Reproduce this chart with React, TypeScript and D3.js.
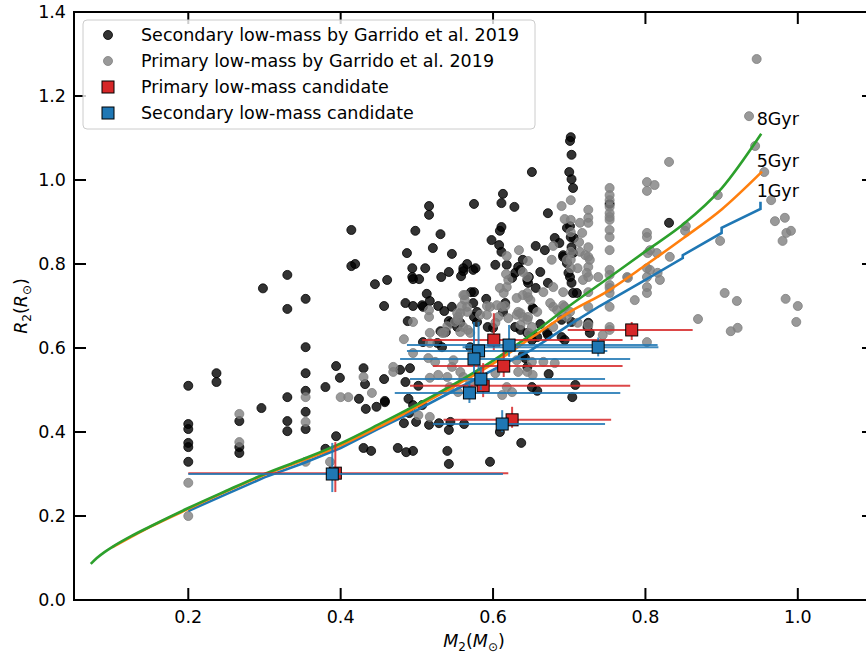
import * as d3 from "d3";

// Garrido et al. 2019 secondaries (M2, R2)
const secondaryGarrido: [number, number][] = [
  [0.2, 0.51], [0.2, 0.419], [0.2, 0.407], [0.2, 0.374], [0.2, 0.364], [0.2, 0.329],
  [0.237, 0.54], [0.237, 0.519], [0.267, 0.426], [0.267, 0.364], [0.267, 0.35],
  [0.296, 0.457], [0.298, 0.742], [0.33, 0.774], [0.33, 0.693], [0.33, 0.483], [0.33, 0.426], [0.33, 0.402],
  [0.354, 0.717], [0.354, 0.602], [0.354, 0.54], [0.354, 0.498], [0.354, 0.448], [0.354, 0.407],
  [0.38, 0.507], [0.38, 0.36], [0.394, 0.557], [0.394, 0.39], [0.399, 0.529],
  [0.414, 0.881], [0.414, 0.795], [0.419, 0.8], [0.424, 0.479], [0.43, 0.552], [0.432, 0.514],
  [0.433, 0.455], [0.43, 0.362], [0.44, 0.355], [0.445, 0.752], [0.447, 0.46], [0.458, 0.471],
  [0.457, 0.526], [0.457, 0.7], [0.461, 0.762], [0.475, 0.362], [0.486, 0.352],
  [0.478, 0.548], [0.491, 0.552], [0.485, 0.519], [0.502, 0.51], [0.458, 0.474], [0.489, 0.479],
  [0.495, 0.464], [0.507, 0.464], [0.49, 0.445], [0.499, 0.424], [0.483, 0.421], [0.516, 0.417], [0.495, 0.355],
  [0.529, 0.421], [0.544, 0.424], [0.562, 0.419], [0.542, 0.405], [0.609, 0.4], [0.637, 0.374],
  [0.542, 0.324], [0.596, 0.329], [0.54, 0.355],
  [0.613, 0.967], [0.575, 0.943], [0.611, 0.945], [0.628, 0.936], [0.516, 0.938], [0.516, 0.917],
  [0.498, 0.879], [0.531, 0.871], [0.611, 0.888], [0.609, 0.879], [0.598, 0.857], [0.521, 0.838],
  [0.487, 0.826], [0.546, 0.824], [0.608, 0.845], [0.611, 0.829], [0.656, 0.843],
  [0.494, 0.79], [0.511, 0.79], [0.566, 0.8], [0.561, 0.79], [0.561, 0.783], [0.577, 0.79], [0.574, 0.786],
  [0.542, 0.781], [0.532, 0.769], [0.558, 0.771], [0.494, 0.769], [0.495, 0.764], [0.503, 0.764],
  [0.603, 0.798], [0.618, 0.798], [0.633, 0.793], [0.639, 0.81], [0.636, 0.786], [0.629, 0.779],
  [0.625, 0.767], [0.645, 0.762], [0.646, 0.755], [0.656, 0.743],
  [0.571, 0.733], [0.575, 0.733], [0.513, 0.729], [0.517, 0.712], [0.485, 0.707], [0.495, 0.7],
  [0.507, 0.702], [0.508, 0.698], [0.528, 0.7], [0.536, 0.688], [0.546, 0.698], [0.574, 0.707],
  [0.579, 0.686], [0.591, 0.717], [0.616, 0.707], [0.613, 0.686], [0.652, 0.695],
  [0.542, 0.664], [0.545, 0.66], [0.575, 0.674], [0.579, 0.662], [0.553, 0.65], [0.593, 0.65],
  [0.6, 0.648], [0.629, 0.65], [0.636, 0.643], [0.527, 0.612], [0.533, 0.602], [0.639, 0.583],
  [0.488, 0.664], [0.557, 0.66], [0.531, 0.64], [0.538, 0.638], [0.508, 0.614], [0.57, 0.602], [0.583, 0.595],
  [0.642, 0.576], [0.645, 0.555], [0.673, 0.538], [0.651, 0.507], [0.658, 0.498], [0.708, 0.512], [0.704, 0.483],
  [0.702, 1.102], [0.701, 1.093], [0.703, 1.06], [0.651, 1.019], [0.7, 1.019], [0.703, 1.002], [0.705, 0.981],
  [0.753, 0.943], [0.672, 0.921], [0.701, 0.89], [0.697, 0.886], [0.702, 0.864], [0.706, 0.862],
  [0.687, 0.85], [0.668, 0.833], [0.692, 0.821], [0.703, 0.84], [0.705, 0.826], [0.681, 0.862],
  [0.662, 0.781], [0.647, 0.769], [0.672, 0.755], [0.701, 0.769], [0.703, 0.755], [0.705, 0.731],
  [0.71, 0.731], [0.653, 0.693], [0.662, 0.657], [0.69, 0.667], [0.703, 0.662], [0.725, 0.66],
  [0.645, 0.636], [0.651, 0.619], [0.671, 0.636], [0.69, 0.626], [0.694, 0.619], [0.727, 0.636],
  [0.692, 0.817], [0.697, 0.802], [0.699, 0.779], [0.649, 0.631], [0.658, 0.626], [0.672, 0.631],
  [0.831, 0.898], [0.724, 0.65],
];

// Garrido et al. 2019 primaries (M, R)
const primaryGarrido: [number, number][] = [
  [0.2, 0.279], [0.2, 0.2], [0.267, 0.443], [0.267, 0.376], [0.354, 0.483], [0.354, 0.424],
  [0.354, 0.329], [0.386, 0.329], [0.4, 0.483], [0.41, 0.483], [0.43, 0.531], [0.441, 0.493],
  [0.634, 0.833], [0.618, 0.819], [0.646, 0.807], [0.617, 0.776], [0.62, 0.762], [0.639, 0.781],
  [0.645, 0.769], [0.609, 0.743], [0.618, 0.745], [0.614, 0.731], [0.631, 0.719], [0.639, 0.726],
  [0.646, 0.721], [0.563, 0.726], [0.605, 0.702], [0.611, 0.698], [0.616, 0.7], [0.592, 0.7],
  [0.592, 0.679], [0.559, 0.7], [0.566, 0.686], [0.516, 0.69], [0.516, 0.674], [0.554, 0.674],
  [0.55, 0.662], [0.633, 0.686], [0.639, 0.674], [0.645, 0.667], [0.636, 0.655], [0.607, 0.674],
  [0.603, 0.66], [0.62, 0.671], [0.495, 0.662], [0.561, 0.65], [0.567, 0.643], [0.536, 0.636],
  [0.517, 0.636], [0.483, 0.621], [0.651, 0.65], [0.647, 0.636],
  [0.533, 0.636], [0.557, 0.638], [0.57, 0.636], [0.495, 0.588], [0.515, 0.576], [0.524, 0.567],
  [0.548, 0.571], [0.546, 0.555], [0.557, 0.543], [0.631, 0.571], [0.651, 0.567], [0.666, 0.567],
  [0.681, 0.564], [0.633, 0.543], [0.645, 0.543], [0.652, 0.536], [0.603, 0.54], [0.469, 0.555],
  [0.469, 0.543], [0.517, 0.529], [0.528, 0.536], [0.54, 0.531], [0.561, 0.531], [0.57, 0.519],
  [0.618, 0.507], [0.625, 0.495], [0.612, 0.488], [0.543, 0.507], [0.554, 0.495], [0.502, 0.44], [0.517, 0.436],
  [0.517, 0.612], [0.54, 0.652], [0.561, 0.726], [0.563, 0.714], [0.566, 0.698], [0.553, 0.683],
  [0.554, 0.667], [0.557, 0.683], [0.583, 0.679], [0.596, 0.698], [0.631, 0.679], [0.646, 0.674],
  [0.679, 0.698], [0.694, 0.698],
  [0.753, 0.981], [0.753, 0.964], [0.753, 0.952], [0.753, 0.936], [0.753, 0.921], [0.753, 0.912],
  [0.753, 0.905], [0.753, 0.881], [0.753, 0.864], [0.753, 0.833], [0.753, 0.786], [0.753, 0.774],
  [0.753, 0.75], [0.753, 0.743], [0.753, 0.731], [0.753, 0.698], [0.753, 0.65], [0.753, 0.643], [0.744, 0.631],
  [0.725, 0.929], [0.725, 0.91], [0.725, 0.898], [0.725, 0.84], [0.725, 0.817], [0.725, 0.793],
  [0.725, 0.769], [0.725, 0.733], [0.725, 0.698], [0.725, 0.655],
  [0.702, 0.952], [0.702, 0.905], [0.702, 0.876], [0.702, 0.829], [0.702, 0.81], [0.702, 0.79], [0.701, 0.686],
  [0.69, 0.938], [0.694, 0.907], [0.714, 0.898], [0.717, 0.874], [0.713, 0.852], [0.679, 0.843],
  [0.677, 0.81], [0.714, 0.829], [0.721, 0.821], [0.727, 0.81], [0.697, 0.81], [0.711, 0.79],
  [0.723, 0.779], [0.718, 0.762],
  [0.802, 0.995], [0.812, 0.988], [0.802, 0.974], [0.802, 0.874], [0.802, 0.864], [0.803, 0.826],
  [0.815, 0.826], [0.802, 0.79], [0.816, 0.779], [0.802, 0.745], [0.786, 0.714], [0.776, 0.769], [0.738, 0.769],
  [0.679, 0.745], [0.666, 0.733], [0.692, 0.733], [0.675, 0.707], [0.692, 0.702], [0.645, 0.731],
  [0.649, 0.714], [0.636, 0.683], [0.658, 0.686], [0.684, 0.69], [0.69, 0.679], [0.697, 0.674],
  [0.711, 0.66], [0.802, 0.614], [0.679, 0.65],
  [0.831, 1.043], [0.853, 0.89], [0.852, 0.879], [0.806, 0.833], [0.832, 0.817], [0.806, 0.786],
  [0.802, 0.769], [0.819, 0.762], [0.777, 0.767], [0.802, 0.731], [0.898, 0.855], [0.895, 0.964],
  [0.869, 0.669], [0.904, 0.731], [0.92, 0.712], [0.912, 0.64], [0.921, 0.648], [0.965, 0.952],
  [0.97, 0.902], [0.983, 0.91], [0.985, 0.874], [0.991, 0.879], [0.98, 0.855], [0.984, 0.717],
  [1.0, 0.7], [0.998, 0.662], [0.956, 1.019], [0.946, 1.288], [0.936, 1.152], [0.944, 1.081],
];

// isochrones (mass, radius)
const iso8Gyr: [number, number][] = [
  [0.072, 0.086], [0.08, 0.1], [0.09, 0.114], [0.1, 0.126], [0.125, 0.152], [0.15, 0.175],
  [0.2, 0.219], [0.25, 0.26], [0.3, 0.3], [0.35, 0.335], [0.4, 0.373], [0.45, 0.418],
  [0.5, 0.465], [0.55, 0.515], [0.6, 0.57], [0.65, 0.632], [0.7, 0.7], [0.75, 0.765],
  [0.8, 0.83], [0.85, 0.895], [0.9, 0.98], [0.952, 1.11],
];
const iso5Gyr: [number, number][] = [
  [0.1, 0.125], [0.15, 0.174], [0.2, 0.217], [0.3, 0.298], [0.4, 0.368], [0.45, 0.412], [0.5, 0.46],
  [0.55, 0.51], [0.6, 0.563], [0.65, 0.624], [0.7, 0.685], [0.75, 0.735], [0.8, 0.797],
  [0.85, 0.862], [0.9, 0.93], [0.953, 1.02],
];
const iso1Gyr: [number, number][] = [
  [0.2, 0.212], [0.25, 0.252], [0.3, 0.292], [0.35, 0.325], [0.4, 0.362], [0.45, 0.408],
  [0.5, 0.452], [0.55, 0.5], [0.6, 0.548], [0.65, 0.595], [0.7, 0.655], [0.74, 0.7],
  [0.8, 0.762], [0.849, 0.814], [0.849, 0.821], [0.9, 0.874], [0.9, 0.886], [0.951, 0.931], [0.951, 0.948],
];
const isoLabels = ["8Gyr", "5Gyr", "1Gyr"];
const isoLabelY = [1.13, 1.03, 0.96];

// candidates: mass, mass low, mass high, radius, radius low, radius high
const primMass = [0.601, 0.614, 0.587, 0.625, 0.393, 0.782];
const primMassLo = [0.507, 0.521, 0.491, 0.535, 0.2, 0.698];
const primMassHi = [0.77, 0.77, 0.78, 0.755, 0.62, 0.862];
const primRad = [0.619, 0.557, 0.51, 0.429, 0.302, 0.643];
const primRadLo = [0.595, 0.531, 0.483, 0.41, 0.257, 0.619];
const primRadHi = [0.683, 0.595, 0.564, 0.46, 0.376, 0.662];

const secMass = [0.581, 0.621, 0.575, 0.584, 0.569, 0.612, 0.389, 0.738];
const secMassLo = [0.487, 0.487, 0.478, 0.491, 0.471, 0.521, 0.2, 0.56];
const secMassHi = [0.75, 0.816, 0.78, 0.747, 0.767, 0.747, 0.613, 0.817];
const secRad = [0.593, 0.607, 0.574, 0.526, 0.493, 0.419, 0.3, 0.602];
const secRadLo = [0.545, 0.579, 0.54, 0.5, 0.469, 0.4, 0.257, 0.58];
const secRadHi = [0.662, 0.655, 0.662, 0.555, 0.516, 0.452, 0.374, 0.625];

const xTicks = [0.2, 0.4, 0.6, 0.8, 1.0];
const yTicks = [0.0, 0.2, 0.4, 0.6, 0.8, 1.0, 1.2, 1.4];

const legendItems = [
  "Secondary low-mass by Garrido et al. 2019",
  "Primary low-mass by Garrido et al. 2019",
  "Primary low-mass candidate",
  "Secondary low-mass candidate",
];

const W = 866;
const H = 655;
const left = 74, right = 874, top = 12, bottom = 600;
const FONT = "DejaVu Sans, sans-serif";
const FS = 17.5;
const RED = "#d62728";
const BLUE = "#1f77b4";

export default function App() {
  const x = d3.scaleLinear().domain([0.05, 1.1]).range([left, right]);
  const y = d3.scaleLinear().domain([0, 1.4]).range([bottom, top]);
  const smooth = d3.line<[number, number]>().x(d => x(d[0])).y(d => y(d[1])).curve(d3.curveMonotoneX);
  const line = d3.line<[number, number]>().x(d => x(d[0])).y(d => y(d[1]));
  const tickLen = 12;

  const errBars = (
    mass: number[], mLo: number[], mHi: number[],
    rad: number[], rLo: number[], rHi: number[], color: string, key: string
  ) => (
    <g key={key}>
      {mass.map((m, i) => (
        <g key={i} stroke={color} strokeWidth={2} strokeOpacity={0.85}>
          <line x1={x(mLo[i])} x2={x(mHi[i])} y1={y(rad[i])} y2={y(rad[i])} />
          <line x1={x(m)} x2={x(m)} y1={y(rLo[i])} y2={y(rHi[i])} />
        </g>
      ))}
      {mass.map((m, i) => (
        <rect key={"s" + i} x={x(m) - 6} y={y(rad[i]) - 6} width={12} height={12}
          fill={color} stroke="#000" strokeWidth={1} />
      ))}
    </g>
  );

  return (
    <svg width={W} height={H} style={{ position: "absolute", left: 0, top: 0, background: "#fff" }}
      fontFamily={FONT}>
      <defs>
        <clipPath id="plot">
          <rect x={left} y={top} width={right - left} height={bottom - top} />
        </clipPath>
      </defs>
      <g clipPath="url(#plot)">
        {secondaryGarrido.map((d, i) => (
          <circle key={"b" + i} cx={x(d[0])} cy={y(d[1])} r={4.5}
            fill="#000" fillOpacity={0.8} stroke="#000" strokeOpacity={0.8} strokeWidth={1} />
        ))}
        {primaryGarrido.map((d, i) => (
          <circle key={"g" + i} cx={x(d[0])} cy={y(d[1])} r={4.5}
            fill="#808080" fillOpacity={0.8} stroke="#808080" strokeOpacity={0.8} strokeWidth={1} />
        ))}
        <path d={line(iso1Gyr) || ""} fill="none" stroke={BLUE} strokeWidth={2.6} />
        <path d={smooth(iso5Gyr) || ""} fill="none" stroke="#ff7f0e" strokeWidth={2.6} />
        <path d={smooth(iso8Gyr) || ""} fill="none" stroke="#2ca02c" strokeWidth={2.6} />
        {errBars(primMass, primMassLo, primMassHi, primRad, primRadLo, primRadHi, RED, "p")}
        {errBars(secMass, secMassLo, secMassHi, secRad, secRadLo, secRadHi, BLUE, "s")}
      </g>
      {isoLabels.map((t, i) => (
        <text key={t} x={x(0.946)} y={y(isoLabelY[i])} fontSize={FS} fill="#000">{t}</text>
      ))}

      {/* spines */}
      <rect x={left} y={top} width={right - left} height={bottom - top} fill="none" stroke="#000" strokeWidth={2} />

      {/* ticks, pointing in on all sides */}
      {xTicks.map(t => (
        <g key={"xt" + t} stroke="#000" strokeWidth={2}>
          <line x1={x(t)} x2={x(t)} y1={bottom} y2={bottom - tickLen} />
          <line x1={x(t)} x2={x(t)} y1={top} y2={top + tickLen} />
        </g>
      ))}
      {yTicks.map(t => (
        <g key={"yt" + t} stroke="#000" strokeWidth={2}>
          <line x1={left} x2={left + tickLen} y1={y(t)} y2={y(t)} />
          <line x1={right} x2={right - tickLen} y1={y(t)} y2={y(t)} />
        </g>
      ))}
      {xTicks.map(t => (
        <text key={"xl" + t} x={x(t)} y={bottom + 23} fontSize={FS} textAnchor="middle">{d3.format(".1f")(t)}</text>
      ))}
      {yTicks.map(t => (
        <text key={"yl" + t} x={left - 8} y={y(t) + 6} fontSize={FS} textAnchor="end">{d3.format(".1f")(t)}</text>
      ))}

      {/* axis labels */}
      <text x={(left + 866) / 2 + 4} y={647} fontSize={FS} textAnchor="middle">
        <tspan fontStyle="italic">M</tspan>
        <tspan fontSize={12} dy={4}>2</tspan>
        <tspan dy={-4}>(</tspan>
        <tspan fontStyle="italic">M</tspan>
        <tspan fontSize={12} dy={4}>⊙</tspan>
        <tspan dy={-4}>)</tspan>
      </text>
      <text transform={`translate(27,${(top + bottom) / 2}) rotate(-90)`} fontSize={FS} textAnchor="middle">
        <tspan fontStyle="italic">R</tspan>
        <tspan fontSize={12} dy={4}>2</tspan>
        <tspan dy={-4}>(</tspan>
        <tspan fontStyle="italic">R</tspan>
        <tspan fontSize={12} dy={4}>⊙</tspan>
        <tspan dy={-4}>)</tspan>
      </text>

      {/* legend */}
      <g>
        <rect x={83} y={20} width={452} height={109} rx={4} fill="#fff" fillOpacity={0.8} stroke="#ccc" strokeWidth={1} />
        {legendItems.map((t, i) => {
          const cy = 35 + i * 26;
          return (
            <g key={t}>
              {i === 0 && <circle cx={108} cy={cy} r={4.5} fill="#000" fillOpacity={0.8} stroke="#000" strokeOpacity={0.8} />}
              {i === 1 && <circle cx={108} cy={cy} r={4.5} fill="#808080" fillOpacity={0.8} stroke="#808080" strokeOpacity={0.8} />}
              {i === 2 && <rect x={102} y={cy - 6} width={12} height={12} fill={RED} stroke="#000" />}
              {i === 3 && <rect x={102} y={cy - 6} width={12} height={12} fill={BLUE} stroke="#000" />}
              <text x={141} y={cy + 6} fontSize={FS}>{t}</text>
            </g>
          );
        })}
      </g>
    </svg>
  );
}
